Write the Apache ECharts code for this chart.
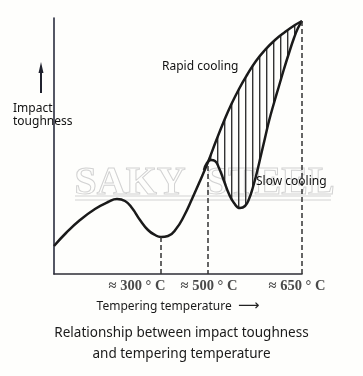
<!DOCTYPE html>
<html><head><meta charset="utf-8">
<script src="https://cdn.jsdelivr.net/npm/echarts@6/dist/echarts.min.js"></script>
<style>html,body{margin:0;padding:0;background:#fefefc}#c{width:363px;height:376px}</style>
</head><body><div id="c"></div>
<script>
// Relative temperature (x) vs relative impact toughness (y)
const rapidCooling = [[0,28],[12,41],[26,54],[41,65],[54,72],[63,75],[71,73],[78,66],[86,54],[94,44],[101,39],[107,37],[114,38],[122,45],[130,58],[138,75],[146,93],[154,112],[162,133],[170,153],[177,169],[185,185],[193,199],[202,213],[211,224],[221,234],[231,242],[241,249],[248,253]];
const slowCooling = [[150,104],[153,111],[157,114],[161,113],[165,106],[170,93],[175,80],[180,71],[186,66],[191,68],[195,75],[199,87],[203,102],[207,119],[211,136],[215,153],[220,171],[225,188],[230,205],[235,221],[240,236],[244,246],[248,253]];
const tempLabels = ['≈ 300 ° C', '≈ 500 ° C', '≈ 650 ° C'];
const tempLabelPos = [83, 155, 243];
const guidePoints = [[107,37],[154,108],[248,253]];
const xName = 'Tempering temperature';
const yName = 'Impact\ntoughness';
const titleText = 'Relationship between impact toughness\nand tempering temperature';

const chart = echarts.init(document.getElementById('c'), null, {renderer: 'canvas'});

// hatch pattern
const pc = document.createElement('canvas');
pc.width = 7; pc.height = 4;
const pctx = pc.getContext('2d');
pctx.fillStyle = '#333';
pctx.fillRect(0, 0, 1.4, 4);

const hatchPoly = slowCooling.concat(rapidCooling.filter(p => p[0] >= 154).reverse());

chart.setOption({
  backgroundColor: '#fefefc',
  animation: false,
  title: {
    text: titleText, left: 'center', top: 318,
    textStyle: {fontFamily: 'Noto Sans', fontSize: 13.5, fontWeight: 'normal', color: '#1a1a1a', lineHeight: 21}
  },
  grid: {left: 54, right: 61, top: 18, bottom: 102, containLabel: false, outerBoundsMode: 'none'},
  xAxis: {
    type: 'value', min: 0, max: 248,
    axisLine: {show: true, lineStyle: {color: '#2e2e36', width: 1.6}},
    axisTick: {show: false}, splitLine: {show: false},
    axisLabel: {
      customValues: tempLabelPos,
      formatter: v => tempLabels[tempLabelPos.indexOf(v)] || '',
      fontFamily: 'Liberation Serif', fontWeight: 'bold', fontSize: 14.5, color: '#4a4a4a', margin: 5
    },
    name: xName + '  {a|⟶}', nameLocation: 'middle', nameGap: 17,
    nameTextStyle: {fontFamily: 'Noto Sans', fontSize: 12, color: '#1a1a1a',
      rich: {a: {fontFamily: 'DejaVu Sans', fontSize: 15, color: '#222'}}}
  },
  yAxis: {
    type: 'value', min: 0, max: 256,
    axisLine: {show: true, lineStyle: {color: '#2a2d3e', width: 1.6}},
    axisTick: {show: false}, axisLabel: {show: false}, splitLine: {show: false}
  },
  graphic: [
    {type: 'text', z: 0, left: 74, top: 163, style: {text: 'SAKY  STEEL', font: 'bold 40px "Liberation Serif"', fill: 'rgba(0,0,0,0)', stroke: '#d2d2d2', lineWidth: 1}},
    {type: 'line', z: 0, shape: {x1: 75, y1: 196, x2: 331, y2: 196}, style: {stroke: '#d2d2d2', lineWidth: 1}},
    {type: 'line', z: 0, shape: {x1: 75, y1: 200, x2: 331, y2: 200}, style: {stroke: '#d2d2d2', lineWidth: 1}},
    {type: 'text', z: 10, left: 13, top: 102, style: {text: yName, font: '12px "Noto Sans"', fill: '#111', lineHeight: 13}},
    {type: 'line', z: 10, shape: {x1: 41, y1: 93, x2: 41, y2: 70}, style: {stroke: '#20222e', lineWidth: 2}},
    {type: 'polygon', z: 10, shape: {points: [[41,62],[38.5,73],[43.5,73]]}, style: {fill: '#20222e'}},
    {type: 'text', z: 10, left: 162, top: 61, style: {text: 'Rapid cooling', font: '12px "Noto Sans"', fill: '#111'}},
    {type: 'text', z: 10, left: 256, top: 176, style: {text: 'Slow cooling', font: '12px "Noto Sans"', fill: '#111'}}
  ],
  series: [
    {
      type: 'custom', z: 1, silent: true,
      data: [0],
      renderItem: function (params, api) {
        const pts = hatchPoly.map(p => api.coord(p));
        return {type: 'polygon', shape: {points: pts, smooth: 0.4},
          style: {fill: {image: pc, repeat: 'repeat'}, stroke: null}};
      }
    },
    {
      name: 'Rapid cooling', type: 'line', data: rapidCooling, smooth: 0.5, symbol: 'none', z: 3,
      lineStyle: {color: '#1a1a1a', width: 2.5},
      markLine: {
        silent: true, symbol: 'none', label: {show: false},
        lineStyle: {color: '#333', width: 1.5, type: [5, 3]},
        data: guidePoints.map(p => [{coord: [p[0], p[1]]}, {coord: [p[0], 0]}])
      }
    },
    {
      name: 'Slow cooling', type: 'line', data: slowCooling, smooth: 0.5, symbol: 'none', z: 3,
      lineStyle: {color: '#1a1a1a', width: 2.5}
    }
  ]
});
</script></body></html>
